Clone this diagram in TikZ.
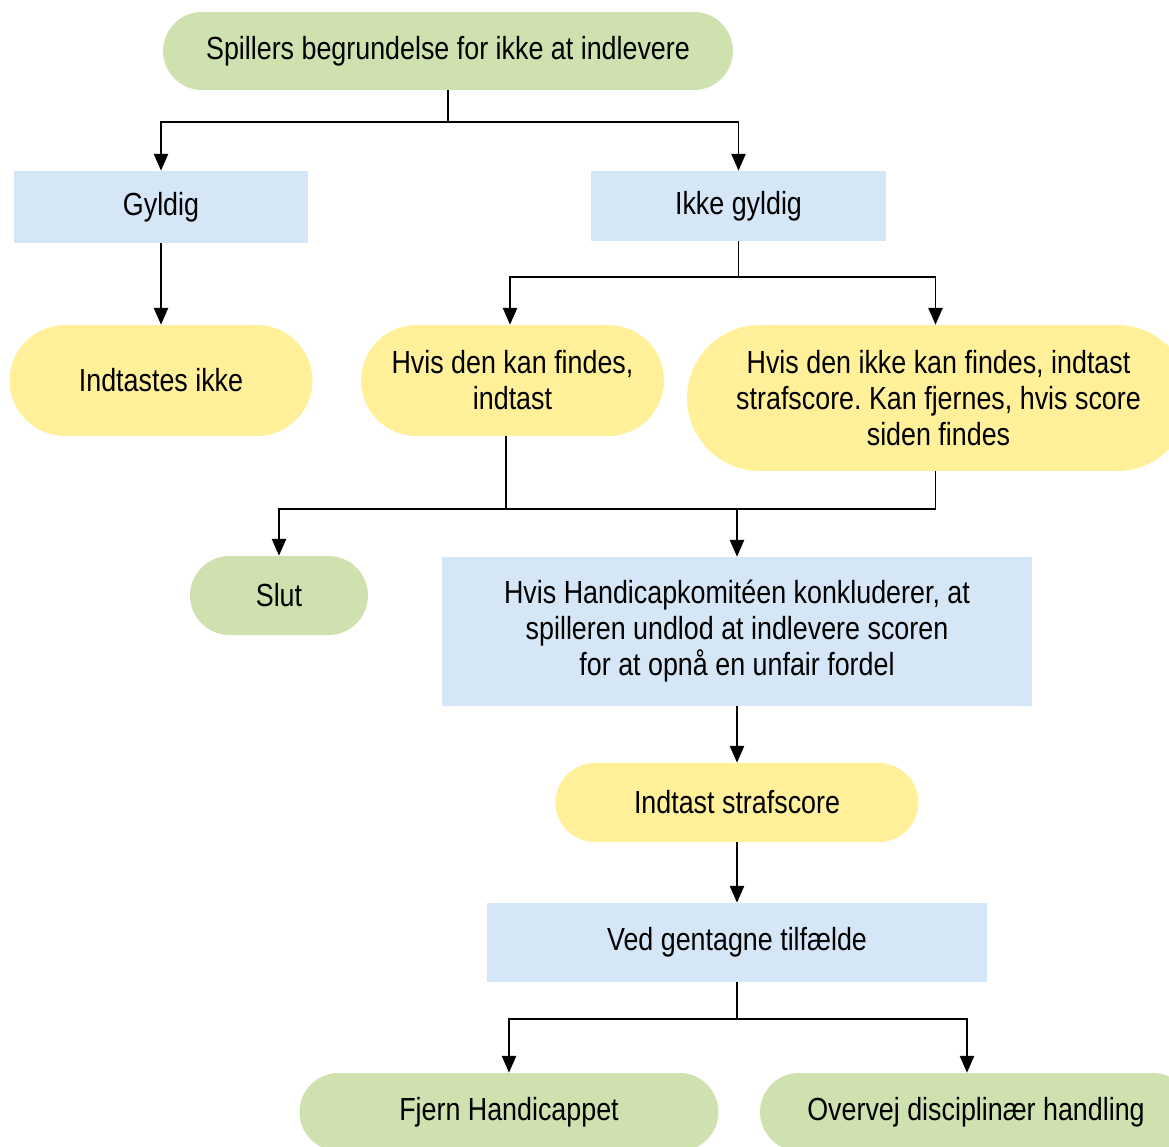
\documentclass[tikz,border=0pt]{standalone}
\usepackage{fontspec}
\setmainfont{Liberation Sans}[FakeStretch=0.84]
\usetikzlibrary{arrows.meta,positioning}
\definecolor{groen}{RGB}{207,225,175}
\definecolor{blaa}{RGB}{213,230,247}
\definecolor{gul}{RGB}{255,240,153}
\frenchspacing

\begin{document}
\begin{tikzpicture}[x=0.02cm, y=-0.02cm,
        boks/.style={rectangle, fill=blaa, align=center, inner sep=0pt},
        pille/.style={rectangle, rounded corners=#1, align=center, inner sep=0pt},
        linje/.style={line width=1.1pt},
        pil/.style={linje, -{Triangle[length=9.5pt, width=8pt]}},
        font=\fontsize{18.2}{20.5}\selectfont]
    \useasboundingbox (0,0) rectangle (1169,1146);

    % bokse
    \node(grund) [pille=0.78cm, fill=groen, minimum width=11.4cm, minimum height=1.56cm] at (448,51) {Spillers begrundelse for ikke at indlevere};
    \node(gyldig) [boks, minimum width=5.9cm, minimum height=1.44cm] at (161,207) {Gyldig};
    \node(ikkegyldig) [boks, minimum width=5.9cm, minimum height=1.4cm] at (738.5,206) {Ikke gyldig};
    \node(indtastesikke) [pille=1.11cm, fill=gul, minimum width=6.06cm, minimum height=2.22cm] at (161,380.5) {Indtastes ikke};
    \node(kan) [pille=1.11cm, fill=gul, minimum width=6.06cm, minimum height=2.22cm] at (512.5,380.5) {Hvis den kan findes,\\indtast};
    \node(ikkekan) [pille=1.46cm, fill=gul, minimum width=10.06cm, minimum height=2.92cm] at (938.5,398) {Hvis den ikke kan findes, indtast\\strafscore. Kan fjernes, hvis score\\siden findes};
    \node(slut) [pille=0.79cm, fill=groen, minimum width=3.56cm, minimum height=1.58cm] at (279,595.5) {Slut};
    \node(komite) [boks, minimum width=11.8cm, minimum height=2.98cm] at (737,631.5) {Hvis Handicapkomitéen konkluderer, at\\spilleren undlod at indlevere scoren\\for at opnå en unfair fordel};
    \node(strafscore) [pille=0.79cm, fill=gul, minimum width=7.26cm, minimum height=1.58cm] at (737,802.5) {Indtast strafscore};
    \node(gentagne) [boks, minimum width=10cm, minimum height=1.58cm] at (737,942.5) {Ved gentagne tilfælde};
    \node(fjern) [pille=0.78cm, fill=groen, minimum width=8.38cm, minimum height=1.56cm] at (509,1112) {Fjern Handicappet};
    \node(overvej) [pille=0.78cm, fill=groen, minimum width=8.64cm, minimum height=1.56cm] at (976,1112) {Overvej disciplinær handling};

    % forgreninger
    \coordinate (j1) at (448,122);
    \coordinate (j2) at (738.5,277);
    \coordinate (j3) at (737,509);
    \coordinate (j4) at (737,1019);

    \draw[linje] (grund.south) -- (j1);
    \draw[pil] (j1) -| (gyldig.north);
    \draw[pil] (j1) -| (ikkegyldig.north);
    \draw[pil] (gyldig.south) -- (indtastesikke.north);

    \draw[linje] (ikkegyldig.south) -- (j2);
    \draw[pil] (j2) -| ([xshift=-0.05cm]kan.north);
    \draw[pil] (j2) -| ([xshift=-0.06cm]ikkekan.north);

    \draw[linje] ([xshift=-0.13cm]kan.south) |- (j3);
    \draw[linje] ([xshift=-0.06cm]ikkekan.south) |- (j3);
    \draw[pil] (j3) -| (slut.north);
    \draw[pil] (j3) -- (komite.north);

    \draw[pil] (komite) -- (strafscore);
    \draw[pil] (strafscore) -- (gentagne);

    \draw[linje] (gentagne.south) -- (j4);
    \draw[pil] (j4) -| (fjern.north);
    \draw[pil] (j4) -| ([xshift=-0.18cm]overvej.north);
\end{tikzpicture}
\end{document}
